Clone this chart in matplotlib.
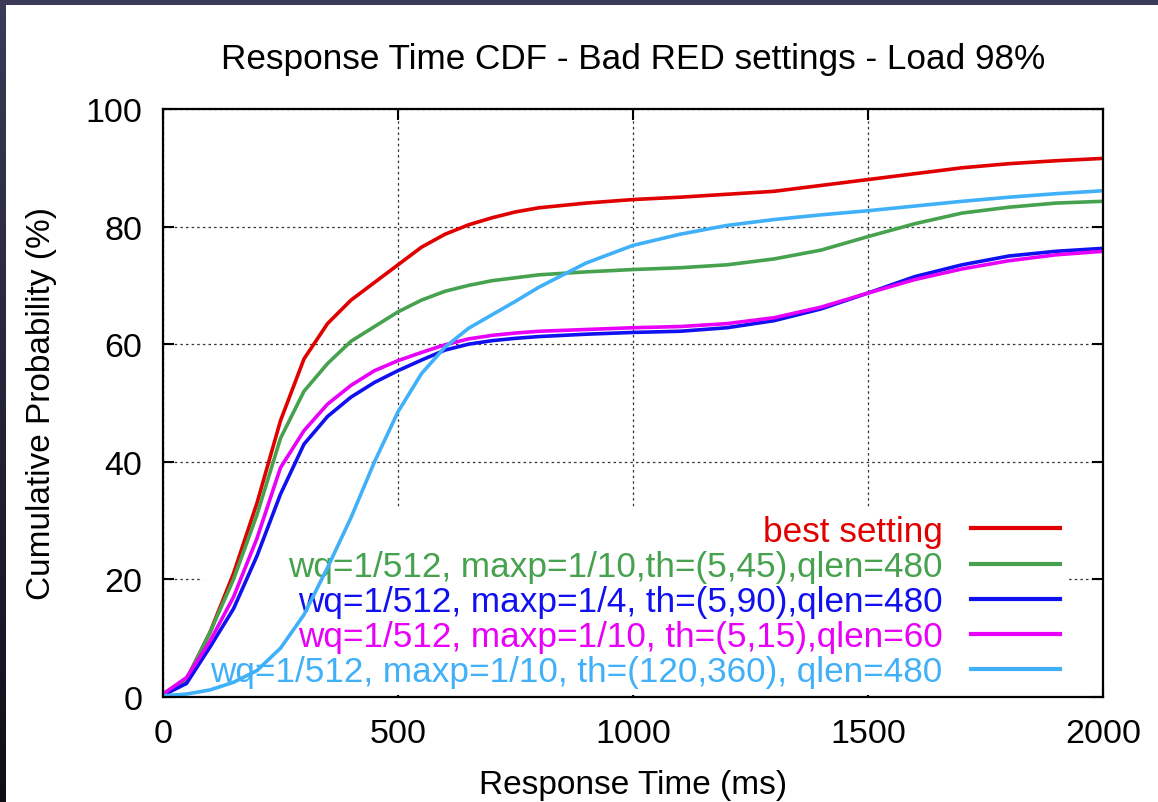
import numpy as np
import matplotlib
matplotlib.use('Agg')
import matplotlib.pyplot as plt
from matplotlib.patches import Rectangle

plt.rcParams['font.family'] = ['Liberation Sans', 'DejaVu Sans']

# ========= data ==========================================
t_ms = [0, 50, 100, 150, 200, 250, 300, 350, 400, 450, 500, 550, 600, 650, 700,
        750, 800, 900, 1000, 1100, 1200, 1300, 1400, 1500, 1600, 1700, 1800, 1900, 2000]

best = [0.5, 3, 11, 21, 33, 47, 57.5, 63.5, 67.5, 70.5, 73.5, 76.5, 78.7, 80.3, 81.5,
        82.5, 83.2, 84.0, 84.6, 85.0, 85.5, 86.0, 87.0, 88.0, 89.0, 90.0, 90.7, 91.2, 91.6]
green = [0.5, 3, 11, 20, 31, 44, 52, 56.7, 60.5, 63, 65.5, 67.5, 69, 70, 70.8,
         71.3, 71.8, 72.3, 72.7, 73.0, 73.5, 74.5, 76.0, 78.3, 80.5, 82.3, 83.3, 84.0, 84.3]
blue = [0.3, 2.3, 8.5, 15, 24, 34.5, 43, 47.7, 51, 53.5, 55.5, 57.3, 59, 60, 60.6,
        61, 61.3, 61.7, 62, 62.2, 62.8, 64, 66, 68.7, 71.5, 73.5, 75, 75.8, 76.3]
magenta = [0.5, 3.3, 9.5, 17, 27, 39, 45.3, 49.8, 53, 55.5, 57.2, 58.6, 59.9, 60.9, 61.5,
           61.9, 62.2, 62.5, 62.8, 63, 63.5, 64.5, 66.3, 68.7, 71, 72.8, 74.2, 75.2, 75.8]
lightblue = [0.2, 0.5, 1.2, 2.5, 4.5, 8.3, 14, 22, 30.5, 40, 48.5, 55, 59.5, 62.7, 65,
             67.3, 69.7, 73.8, 76.8, 78.7, 80.2, 81.2, 82.0, 82.7, 83.5, 84.3, 85.0, 85.6, 86.1]

labels = ['best setting',
          'wq=1/512, maxp=1/10,th=(5,45),qlen=480',
          'wq=1/512, maxp=1/4, th=(5,90),qlen=480',
          'wq=1/512, maxp=1/10, th=(5,15),qlen=60',
          'wq=1/512, maxp=1/10, th=(120,360), qlen=480']
series = [best, green, blue, magenta, lightblue]
colors = ['#e00000', '#46a24e', '#1010f0', '#e800f8', '#40b0f8']

x_ticks = [0, 500, 1000, 1500, 2000]
y_ticks = [0, 20, 40, 60, 80, 100]
# =========================================================


def main():
    W, H = 1158, 803
    fig = plt.figure(figsize=(W / 100, H / 100), dpi=100)

    # dark screenshot border (top and left)
    fig.patches.append(Rectangle((0, 1 - 6 / H), 1, 6 / H, transform=fig.transFigure,
                                 facecolor='#3b3a58', edgecolor='none', zorder=10))
    strip = fig.add_axes([0, 0, 6 / W, 1])
    grad = np.linspace(0, 1, 256).reshape(-1, 1)
    top_c = np.array([59, 58, 88]) / 255.0
    bot_c = np.array([15, 15, 24]) / 255.0
    img = top_c[None, None, :] * (1 - grad[:, :, None]) + bot_c[None, None, :] * grad[:, :, None]
    strip.imshow(img, aspect='auto', extent=[0, 1, 0, 1])
    strip.set_axis_off()

    ax = fig.add_axes([163 / W, 1 - 698 / H, 940 / W, 588 / H])
    ax.set_axisbelow(True)

    for ys, lab, c in zip(series, labels, colors):
        ax.plot(t_ms, ys, color=c, lw=2.6, label=lab, zorder=2, solid_joinstyle='round')

    ax.set_xlim(0, 2000)
    ax.set_ylim(0, 100)
    ax.set_xticks(x_ticks)
    ax.set_yticks(y_ticks)
    ax.tick_params(direction='in', length=8, width=1.5, top=True, right=True,
                   labelsize=24.5, pad=15)
    for s in ax.spines.values():
        s.set_linewidth(1.6)
    ax.grid(True, color='#333333', lw=0.9, linestyle=(0, (2, 2.5)))

    ax.set_xlabel('Response Time (ms)', fontsize=24)
    ax.xaxis.set_label_coords(0.5, -0.122)
    ax.set_ylabel('Cumulative Probability (%)', fontsize=24)
    ax.yaxis.set_label_coords(-0.113, 0.5)

    fig.text(633 / W, 1 - 69.5 / H, 'Response Time CDF - Bad RED settings - Load 98%',
             ha='center', va='baseline', fontsize=25.3)

    leg = ax.legend(loc='lower right', bbox_to_anchor=(0.962, 0.003), fontsize=25.3,
                    markerfirst=False, labelspacing=0.06, handlelength=2.55,
                    handletextpad=0.8, borderpad=0.2, borderaxespad=0,
                    frameon=True, fancybox=False, framealpha=1)
    leg.get_frame().set_facecolor('white')
    leg.get_frame().set_edgecolor('none')
    for txt, c in zip(leg.get_texts(), colors):
        txt.set_color(c)
    for ln in leg.get_lines():
        ln.set_linewidth(3)
    leg.set_zorder(1)

    fig.savefig('out.png', dpi=100)


if __name__ == "__main__":
    main()
